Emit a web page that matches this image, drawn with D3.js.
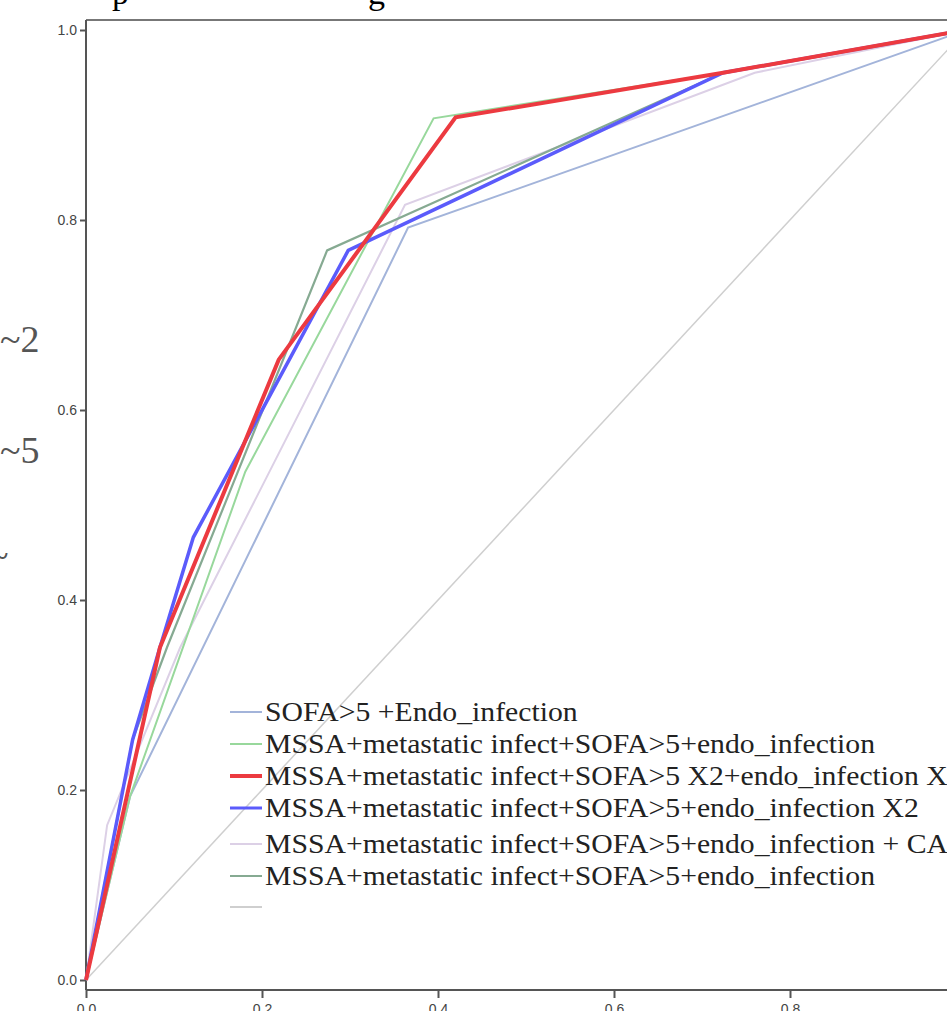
<html>
<head>
<script src="https://d3js.org/d3.v7.min.js"></script>
<style>
  body { margin: 0; background: #fff; overflow: hidden; }
</style>
</head>
<body>
<svg id="chart" width="947" height="1011"></svg>
<script>
// ROC points [1 - specificity, sensitivity]
var sofaEndo = [[0, 0], [0.05, 0.193], [0.366, 0.792], [1, 1]];
var mssaEndo = [[0, 0], [0.05, 0.193], [0.181, 0.535], [0.395, 0.907], [0.724, 0.955], [1, 1]];
var mssaX2Both = [[0, 0], [0.084, 0.35], [0.219, 0.653], [0.42, 0.908], [0.724, 0.955], [1, 1]];
var mssaEndoX2 = [[0, 0], [0.053, 0.253], [0.084, 0.35], [0.122, 0.466], [0.298, 0.768], [0.724, 0.955], [1, 1]];
var mssaEndoCA = [[0, 0], [0.024, 0.163], [0.107, 0.35], [0.3625, 0.816], [0.76, 0.955], [1, 1]];
var mssaEndo2 = [[0, 0], [0.053, 0.253], [0.092, 0.35], [0.274, 0.768], [0.724, 0.955], [1, 1]];
var refLine = [[0, 0], [1, 1]];

var legendLabels = [
  'SOFA>5 +Endo_infection',
  'MSSA+metastatic infect+SOFA>5+endo_infection',
  'MSSA+metastatic infect+SOFA>5 X2+endo_infection X2',
  'MSSA+metastatic infect+SOFA>5+endo_infection X2',
  'MSSA+metastatic infect+SOFA>5+endo_infection + CA',
  'MSSA+metastatic infect+SOFA>5+endo_infection',
  ''
];
var xTicks = [0, 0.2, 0.4, 0.6, 0.8, 1.0];
var yTicks = [0, 0.2, 0.4, 0.6, 0.8, 1.0];

var svg = d3.select('#chart');

var x = d3.scaleLinear().domain([0, 1]).range([86, 966]);
var y = d3.scaleLinear().domain([0, 1]).range([980, 30]);

// bits of text cut off by the crop
svg.append('text').attr('x', 112).attr('y', 4)
  .style('font-family', 'Liberation Serif').style('font-size', '34px').text('p');
svg.append('text').attr('x', 368).attr('y', 4)
  .style('font-family', 'Liberation Serif').style('font-size', '34px').text('g');
svg.append('text').attr('x', 0).attr('y', 352)
  .style('font-family', 'Liberation Serif').style('font-size', '38px').style('fill', '#555').text('~2');
svg.append('text').attr('x', 0).attr('y', 463)
  .style('font-family', 'Liberation Serif').style('font-size', '38px').style('fill', '#555').text('~5');
svg.append('text').attr('x', -12).attr('y', 568)
  .style('font-family', 'Liberation Serif').style('font-size', '38px').style('fill', '#555').text('~');

// frame
svg.append('line').attr('x1', 86).attr('x2', 947).attr('y1', 20).attr('y2', 20)
  .attr('stroke', '#777').attr('stroke-width', 2);
svg.append('line').attr('x1', 86).attr('x2', 947).attr('y1', 990).attr('y2', 990)
  .attr('stroke', '#555').attr('stroke-width', 2);
svg.append('line').attr('x1', 86).attr('x2', 86).attr('y1', 20).attr('y2', 990)
  .attr('stroke', '#555').attr('stroke-width', 2);

var yAxis = svg.append('g').attr('transform', 'translate(86,0)')
  .call(d3.axisLeft(y).tickValues(yTicks).tickFormat(d3.format('.1f')).tickSize(6).tickPadding(3));
var xAxis = svg.append('g').attr('transform', 'translate(0,990)')
  .call(d3.axisBottom(x).tickValues(xTicks).tickFormat(d3.format('.1f')).tickSize(8).tickPadding(6));
[yAxis, xAxis].forEach(function(a) {
  a.select('.domain').remove();
  a.selectAll('line').attr('stroke', '#555').attr('stroke-width', 2);
  a.selectAll('text').attr('fill', '#444')
    .style('font-family', 'Liberation Sans Narrow, Liberation Sans').style('font-size', '14px');
});

var line = d3.line().x(function(d) { return x(d[0]); }).y(function(d) { return y(d[1]); });

var series = [
  { data: refLine, color: '#cfcfcf', width: 1.5 },
  { data: sofaEndo, color: '#a3b4da', width: 2 },
  { data: mssaEndoCA, color: '#dcd0e6', width: 2 },
  { data: mssaEndo, color: '#98d89c', width: 2 },
  { data: mssaEndo2, color: '#86aa92', width: 2.2 },
  { data: mssaEndoX2, color: '#5b5bfb', width: 3.5 },
  { data: mssaX2Both, color: '#ec3a40', width: 4 }
];

svg.selectAll('path.roc').data(series).enter().append('path')
  .attr('class', 'roc')
  .attr('fill', 'none')
  .attr('stroke', function(d) { return d.color; })
  .attr('stroke-width', function(d) { return d.width; })
  .attr('stroke-linejoin', 'miter')
  .attr('d', function(d) { return line(d.data); });

// legend
var legendColors = ['#a3b4da', '#98d89c', '#ec3a40', '#5b5bfb', '#dcd0e6', '#86aa92', '#cfcfcf'];
var legendWidths = [2, 2, 4, 3, 2, 2, 2];
var legendY = [712, 744, 776, 808, 844, 876, 907];
var lg = svg.append('g');
legendLabels.forEach(function(lab, i) {
  lg.append('line').attr('x1', 230).attr('x2', 262)
    .attr('y1', legendY[i]).attr('y2', legendY[i])
    .attr('stroke', legendColors[i]).attr('stroke-width', legendWidths[i]);
  if (lab) {
    var t = lg.append('text').attr('x', 265).attr('y', legendY[i] + 9)
      .style('font-family', 'Liberation Serif').style('font-size', '27px').style('fill', '#222')
      .text(lab);
    // the original face is wider than Liberation Serif
    var w = t.node().getComputedTextLength();
    t.attr('textLength', w * 1.1).attr('lengthAdjust', 'spacingAndGlyphs');
  }
});
</script>
</body>
</html>
